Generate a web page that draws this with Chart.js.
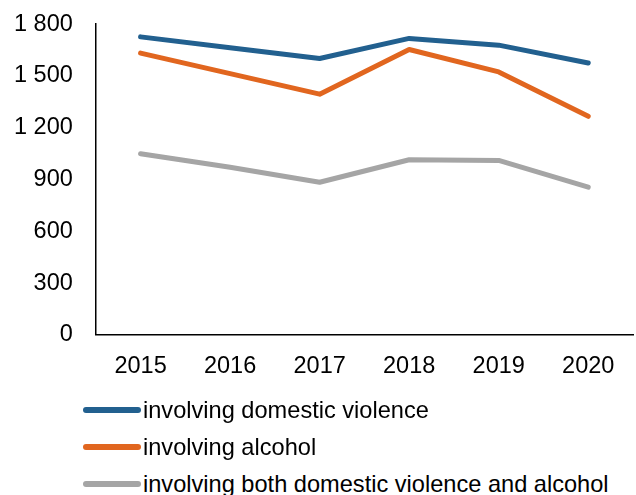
<!DOCTYPE html>
<html>
<head>
<meta charset="utf-8">
<script src="https://cdn.jsdelivr.net/npm/chart.js@4.4.1/dist/chart.umd.min.js"></script>
<style>
  html, body { margin: 0; padding: 0; background: #fff; overflow: hidden; width: 636px; height: 495px; position: relative; }
  #wrap { position: absolute; left: 0; top: 0; width: 636px; height: 399px; }
  #legend { position: absolute; left: 83px; top: 0; font-family: "Liberation Sans", Arial, sans-serif; font-size: 23.6px; color: #000; }
  .item { position: absolute; left: 0; height: 30px; display: flex; align-items: center; white-space: nowrap; }
  .sw { width: 58px; height: 6px; border-radius: 3px; margin-right: 2px; }
</style>
</head>
<body>
<div id="wrap"><canvas id="c"></canvas></div>
<div id="legend"></div>
<script>
const categories = ['2015', '2016', '2017', '2018', '2019', '2020'];
const seriesNames = ['involving domestic violence', 'involving alcohol', 'involving both domestic violence and alcohol'];
const domesticViolence = [1726, 1663, 1601, 1717, 1678, 1575];
const alcohol = [1632, 1513, 1394, 1653, 1523, 1266];
const both = [1049, 971, 884, 1014, 1010, 855];
const yTickValues = [0, 300, 600, 900, 1200, 1500, 1800];
const yTickLabels = ['0', '300', '600', '900', '1 200', '1 500', '1 800'];
const colors = ['#22608F', '#E1661F', '#A5A5A5'];

const seriesValues = [domesticViolence, alcohol, both];
const font = { family: '"Liberation Sans", Arial, sans-serif', size: 23.5 };

const chart = new Chart(document.getElementById('c'), {
  type: 'line',
  data: {
    labels: categories,
    datasets: seriesValues.map((vals, i) => ({
      label: seriesNames[i],
      data: vals,
      borderColor: colors[i],
      backgroundColor: colors[i],
      borderWidth: 5,
      borderCapStyle: 'round',
      borderJoinStyle: 'round',
      pointRadius: 0,
      tension: 0,
      fill: false
    }))
  },
  options: {
    responsive: true,
    maintainAspectRatio: false,
    animation: false,
    layout: { padding: { left: 4, right: 3, top: 0, bottom: 0 } },
    plugins: { legend: { display: false }, tooltip: { enabled: false } },
    scales: {
      x: {
        offset: true,
        grid: { display: false, drawTicks: false },
        border: { display: true, color: '#000', width: 1.5 },
        ticks: { color: '#000', font: font, padding: 18, maxRotation: 0 }
      },
      y: {
        min: 0, max: 1800,
        grid: { display: false, drawTicks: true, tickLength: 13 },
        border: { display: true, color: '#000', width: 1.5 },
        afterBuildTicks: (axis) => { axis.ticks = yTickValues.map(v => ({ value: v })); },
        ticks: {
          color: '#000', font: font, padding: 10,
          callback: (v) => yTickLabels[yTickValues.indexOf(v)]
        }
      }
    }
  }
});

const legend = document.getElementById('legend');
const rowTops = [395, 432, 469];
seriesNames.forEach((name, i) => {
  const d = document.createElement('div');
  d.className = 'item';
  d.style.top = rowTops[i] + 'px';
  const sw = document.createElement('span');
  sw.className = 'sw';
  sw.style.background = colors[i];
  const t = document.createElement('span');
  t.textContent = name;
  d.appendChild(sw); d.appendChild(t);
  legend.appendChild(d);
});
</script>
</body>
</html>
